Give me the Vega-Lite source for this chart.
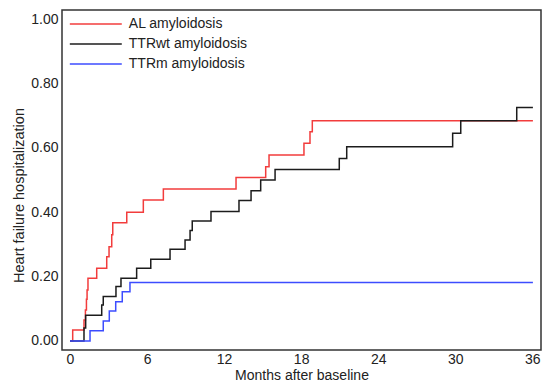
{
  "$schema": "https://vega.github.io/schema/vega-lite/v6.json",
  "width": 479,
  "height": 340,
  "autosize": {"type": "none"},
  "padding": {"left": 62, "top": 10, "right": 9, "bottom": 37},
  "background": "white",
  "config": {
    "view": {"stroke": "#333333", "strokeWidth": 1.5},
    "font": "Liberation Sans"
  },
  "data": {
    "values": [
      {"group": "AL amyloidosis", "month": 0, "p": 0},
      {"group": "AL amyloidosis", "month": 0.21, "p": 0.034},
      {"group": "AL amyloidosis", "month": 1.09, "p": 0.065},
      {"group": "AL amyloidosis", "month": 1.2, "p": 0.096},
      {"group": "AL amyloidosis", "month": 1.28, "p": 0.13},
      {"group": "AL amyloidosis", "month": 1.33, "p": 0.158},
      {"group": "AL amyloidosis", "month": 1.4, "p": 0.195},
      {"group": "AL amyloidosis", "month": 2.08, "p": 0.226},
      {"group": "AL amyloidosis", "month": 2.86, "p": 0.262},
      {"group": "AL amyloidosis", "month": 3.04, "p": 0.293},
      {"group": "AL amyloidosis", "month": 3.25, "p": 0.33},
      {"group": "AL amyloidosis", "month": 3.33, "p": 0.367},
      {"group": "AL amyloidosis", "month": 4.42, "p": 0.4},
      {"group": "AL amyloidosis", "month": 5.71, "p": 0.438},
      {"group": "AL amyloidosis", "month": 7.27, "p": 0.472},
      {"group": "AL amyloidosis", "month": 12.93, "p": 0.508},
      {"group": "AL amyloidosis", "month": 15.24, "p": 0.541},
      {"group": "AL amyloidosis", "month": 15.5, "p": 0.578},
      {"group": "AL amyloidosis", "month": 18.22, "p": 0.614},
      {"group": "AL amyloidosis", "month": 18.69, "p": 0.65},
      {"group": "AL amyloidosis", "month": 18.87, "p": 0.684},
      {"group": "AL amyloidosis", "month": 36.05, "p": 0.684},
      {"group": "TTRwt amyloidosis", "month": 0, "p": 0},
      {"group": "TTRwt amyloidosis", "month": 1.09, "p": 0.04},
      {"group": "TTRwt amyloidosis", "month": 1.22, "p": 0.08},
      {"group": "TTRwt amyloidosis", "month": 2.47, "p": 0.112},
      {"group": "TTRwt amyloidosis", "month": 2.59, "p": 0.138},
      {"group": "TTRwt amyloidosis", "month": 3.58, "p": 0.169},
      {"group": "TTRwt amyloidosis", "month": 3.97, "p": 0.195},
      {"group": "TTRwt amyloidosis", "month": 5.19, "p": 0.226},
      {"group": "TTRwt amyloidosis", "month": 6.29, "p": 0.254},
      {"group": "TTRwt amyloidosis", "month": 7.79, "p": 0.285},
      {"group": "TTRwt amyloidosis", "month": 8.96, "p": 0.314},
      {"group": "TTRwt amyloidosis", "month": 9.35, "p": 0.343},
      {"group": "TTRwt amyloidosis", "month": 9.52, "p": 0.373},
      {"group": "TTRwt amyloidosis", "month": 10.98, "p": 0.402},
      {"group": "TTRwt amyloidosis", "month": 13.16, "p": 0.436},
      {"group": "TTRwt amyloidosis", "month": 14.1, "p": 0.467},
      {"group": "TTRwt amyloidosis", "month": 14.85, "p": 0.5},
      {"group": "TTRwt amyloidosis", "month": 15.97, "p": 0.533},
      {"group": "TTRwt amyloidosis", "month": 20.97, "p": 0.567},
      {"group": "TTRwt amyloidosis", "month": 21.55, "p": 0.603},
      {"group": "TTRwt amyloidosis", "month": 29.8, "p": 0.645},
      {"group": "TTRwt amyloidosis", "month": 30.43, "p": 0.684},
      {"group": "TTRwt amyloidosis", "month": 34.79, "p": 0.725},
      {"group": "TTRwt amyloidosis", "month": 36.05, "p": 0.725},
      {"group": "TTRm amyloidosis", "month": 0, "p": 0},
      {"group": "TTRm amyloidosis", "month": 1.56, "p": 0.032},
      {"group": "TTRm amyloidosis", "month": 2.59, "p": 0.062},
      {"group": "TTRm amyloidosis", "month": 3.06, "p": 0.093},
      {"group": "TTRm amyloidosis", "month": 3.56, "p": 0.122},
      {"group": "TTRm amyloidosis", "month": 4.07, "p": 0.153},
      {"group": "TTRm amyloidosis", "month": 4.67, "p": 0.182},
      {"group": "TTRm amyloidosis", "month": 36.05, "p": 0.182}
    ]
  },
  "mark": {"type": "line", "interpolate": "step-after", "strokeWidth": 1.5},
  "encoding": {
    "x": {
      "field": "month",
      "type": "quantitative",
      "scale": {"domain": [-0.623, 36.68], "nice": false, "zero": false},
      "axis": {
        "values": [0, 6, 12, 18, 24, 30, 36],
        "title": "Months after baseline",
        "grid": false,
        "ticks": false,
        "domain": false,
        "labelFontSize": 14,
        "labelColor": "#222222",
        "labelPadding": 2,
        "labelFlush": false,
        "titleFontSize": 14,
        "titleFontWeight": "normal",
        "titleColor": "#222222",
        "titleY": 29.5,
        "titleBaseline": "alphabetic"
      }
    },
    "y": {
      "field": "p",
      "type": "quantitative",
      "scale": {"domain": [-0.028, 1.028], "nice": false, "zero": false},
      "axis": {
        "values": [0, 0.2, 0.4, 0.6, 0.8, 1.0],
        "format": ".2f",
        "title": "Heart failure hospitalization",
        "grid": false,
        "ticks": false,
        "domain": false,
        "labelFontSize": 14,
        "labelColor": "#222222",
        "labelPadding": 4,
        "labelFlush": false,
        "titleFontSize": 14.5,
        "titleFontWeight": "normal",
        "titleColor": "#222222",
        "titleX": -43,
        "titleY": 185,
        "titleBaseline": "middle",
        "titleAlign": "center"
      }
    },
    "color": {
      "field": "group",
      "type": "nominal",
      "scale": {
        "domain": ["AL amyloidosis", "TTRwt amyloidosis", "TTRm amyloidosis"],
        "range": ["#f23c3c", "#1c1c1c", "#3c4cff"]
      },
      "legend": {
        "orient": "none",
        "legendX": 26.8,
        "legendY": 7,
        "title": null,
        "symbolType": "M-5,0L5,0",
        "symbolSize": 108,
        "symbolStrokeWidth": 1.5,
        "labelFontSize": 14,
        "labelColor": "#222222",
        "labelOffset": 26,
        "rowPadding": 6
      }
    }
  }
}
